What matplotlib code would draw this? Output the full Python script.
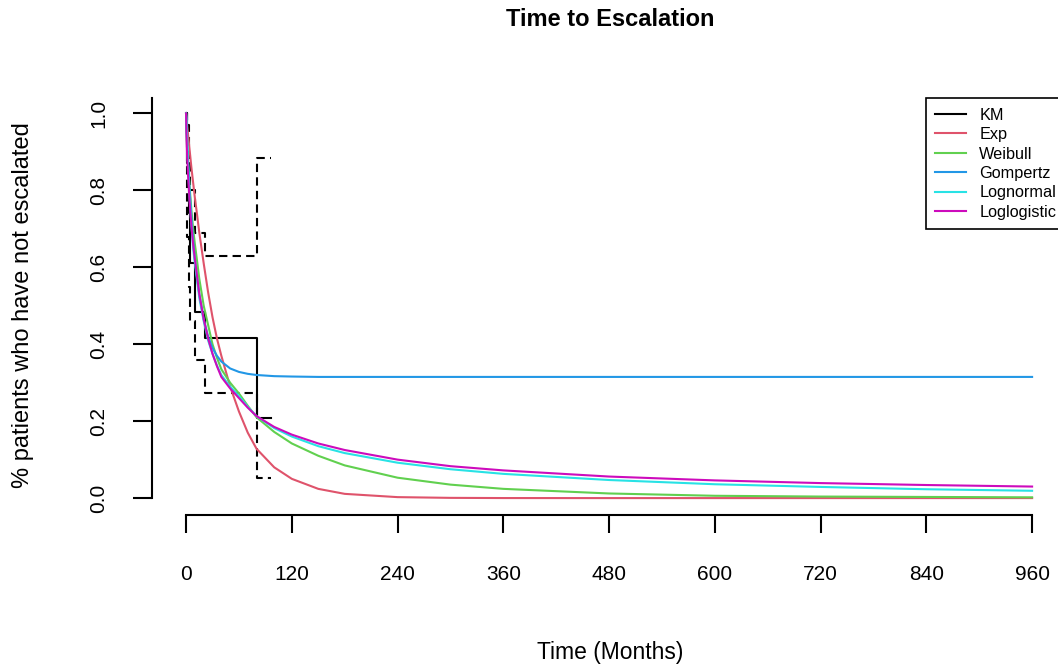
import matplotlib
matplotlib.use("Agg")
import matplotlib.pyplot as plt

plt.rcParams['font.family'] = ['Liberation Sans', 'DejaVu Sans']

# Kaplan-Meier estimate with confidence limits (step after each time)
km_time = [0, 1, 3, 5, 10, 21, 80, 96]
km_surv = [1.0, 0.87, 0.74, 0.61, 0.484, 0.415, 0.207, 0.207]
km_upper = [1.0, 0.97, 0.88, 0.80, 0.69, 0.63, 0.883, 0.883]
km_lower = [1.0, 0.68, 0.55, 0.46, 0.36, 0.273, 0.052, 0.052]

# fitted parametric curves
t_fit = [0, 0.5, 1, 2, 3, 4, 6, 8, 10, 12, 15, 20, 25, 30, 35, 40, 50, 60, 70,
         80, 100, 120, 150, 180, 240, 300, 360, 480, 600, 720, 840, 960]
s_exp = [1.0, 0.988, 0.975, 0.95, 0.928, 0.905, 0.86, 0.82, 0.78, 0.745, 0.69,
         0.61, 0.535, 0.47, 0.415, 0.37, 0.29, 0.225, 0.17, 0.128, 0.08, 0.05,
         0.024, 0.011, 0.0025, 0.0006, 0.0001, 0.0, 0.0, 0.0, 0.0, 0.0]
s_weibull = [1.0, 0.95, 0.92, 0.88, 0.845, 0.81, 0.75, 0.70, 0.66, 0.625, 0.57,
             0.50, 0.45, 0.40, 0.365, 0.335, 0.30, 0.272, 0.24, 0.21, 0.172,
             0.142, 0.11, 0.085, 0.053, 0.035, 0.024, 0.012, 0.006, 0.004,
             0.003, 0.002]
s_gompertz = [1.0, 0.96, 0.93, 0.88, 0.84, 0.80, 0.73, 0.67, 0.62, 0.58, 0.53,
              0.465, 0.42, 0.39, 0.37, 0.355, 0.337, 0.328, 0.323, 0.32, 0.317,
              0.316, 0.315, 0.315, 0.315, 0.315, 0.315, 0.315, 0.315, 0.315,
              0.315, 0.315]
s_lognormal = [1.0, 0.985, 0.95, 0.88, 0.825, 0.78, 0.71, 0.65, 0.61, 0.575,
               0.52, 0.46, 0.41, 0.375, 0.345, 0.32, 0.29, 0.265, 0.237, 0.213,
               0.182, 0.16, 0.135, 0.117, 0.092, 0.075, 0.063, 0.047, 0.036,
               0.029, 0.023, 0.019]
s_loglogistic = [1.0, 0.94, 0.90, 0.85, 0.81, 0.77, 0.71, 0.66, 0.62, 0.585,
                 0.53, 0.465, 0.415, 0.375, 0.343, 0.315, 0.285, 0.26, 0.235,
                 0.213, 0.185, 0.165, 0.142, 0.125, 0.10, 0.083, 0.072, 0.056,
                 0.046, 0.039, 0.034, 0.03]

labels = ["KM", "Exp", "Weibull", "Gompertz", "Lognormal", "Loglogistic"]
colors = ["#000000", "#DF536B", "#61D04F", "#2297E6", "#28E2E5", "#CD0BBC"]
xticks = [0, 120, 240, 360, 480, 600, 720, 840, 960]
yticks = [0.0, 0.2, 0.4, 0.6, 0.8, 1.0]

fig = plt.figure(figsize=(10.58, 6.66), dpi=100)
# plot region runs past the right edge, as in the original
ax = fig.add_axes([0.1439, 0.2267, 0.8636, 0.6261])

lw = 1.5
ax.step(km_time, km_surv, where='post', color=colors[0], lw=lw, label=labels[0])
ax.step(km_time, km_upper, where='post', color='black', lw=lw, linestyle=(0, (4, 2.5)))
ax.step(km_time, km_lower, where='post', color='black', lw=lw, linestyle=(0, (4, 2.5)))

fits = [s_exp, s_weibull, s_gompertz, s_lognormal, s_loglogistic]
for i, s in enumerate(fits):
    ax.plot(t_fit, s, color=colors[i + 1], lw=lw, label=labels[i + 1])

ax.set_xlim(-38.4, 998.4)
ax.set_ylim(-0.044, 1.04)

for side in ['top', 'right']:
    ax.spines[side].set_visible(False)
ax.spines['left'].set_bounds(0, 1.04)
ax.spines['bottom'].set_bounds(0, 960)
ax.spines['left'].set_linewidth(1.5)
ax.spines['bottom'].set_linewidth(1.5)

ax.set_xticks(xticks)
ax.set_xticklabels([str(x) for x in xticks])
ax.set_yticks(yticks)
ax.set_yticklabels(["%.1f" % y for y in yticks], rotation=90, va='center')
ax.tick_params(axis='x', length=13, width=1.5, pad=23, labelsize=15)
ax.tick_params(axis='y', length=13.7, width=1.5, pad=18, labelsize=15)

fig.text(610 / 1058, 1 - 20 / 666, "Time to Escalation", ha='center', va='center',
         fontsize=17, fontweight='bold')
fig.text(610 / 1058, 1 - 652 / 666, "Time (Months)", ha='center', va='center',
         fontsize=16.5)
fig.text(23 / 1058, 1 - 305 / 666, "% patients who have not escalated",
         ha='center', va='center', rotation=90, fontsize=17)

leg = ax.legend(loc='upper right', bbox_to_anchor=(1, 1), borderaxespad=0,
                fontsize=11.7, handlelength=1.9, handletextpad=0.8,
                labelspacing=0.27, borderpad=0.6, fancybox=False,
                edgecolor='black', framealpha=1)
leg.get_frame().set_linewidth(1.2)

fig.savefig("out.png", dpi=100)
